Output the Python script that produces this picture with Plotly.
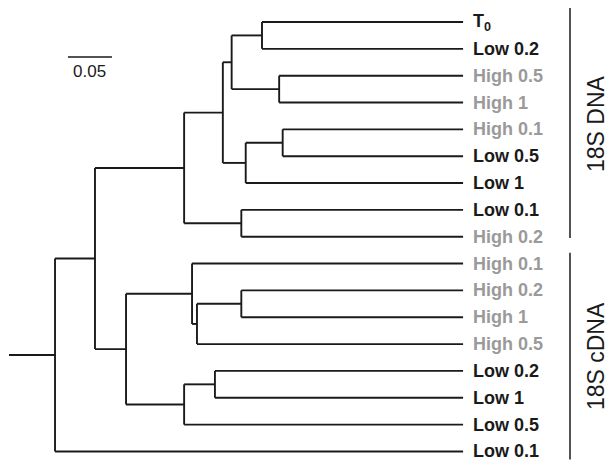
import plotly.graph_objects as go

# ---- data ----
leaf_labels = ["T<sub>0</sub>", "Low 0.2", "High 0.5", "High 1", "High 0.1", "Low 0.5",
               "Low 1", "Low 0.1", "High 0.2", "High 0.1", "High 0.2", "High 1",
               "High 0.5", "Low 0.2", "Low 1", "Low 0.5", "Low 0.1"]
leaf_treatment = ["T0", "Low", "High", "High", "High", "Low", "Low", "Low", "High",
                  "High", "High", "High", "High", "Low", "Low", "Low", "Low"]
leaf_depth = 0.516

# internal nodes: name, children, distance from origin of the root stem
node_names = ["n1", "n2", "A", "n3", "B", "C", "n4", "D", "n5", "F", "G", "n6", "H", "I", "E", "root"]
node_children = [["L0", "L1"], ["L2", "L3"], ["n1", "n2"], ["L4", "L5"], ["n3", "L6"],
                 ["A", "B"], ["L7", "L8"], ["C", "n4"], ["L10", "L11"], ["n5", "L12"],
                 ["L9", "F"], ["L13", "L14"], ["n6", "L15"], ["G", "H"], ["D", "I"],
                 ["E", "L16"]]
node_depths = [0.2875, 0.307, 0.253, 0.311, 0.269, 0.243, 0.264, 0.199, 0.264, 0.2136,
               0.208, 0.234, 0.199, 0.133, 0.0977, 0.0523]

groups = ["18S DNA", "18S cDNA"]
group_ranges = [(-0.52, 8.05), (8.6, 16.3)]
scale_length = 0.05

colors = {"T0": "#1a1a1a", "Low": "#1a1a1a", "High": "#9a9a9a"}

# ---- layout of the tree ----
pos = {}
for i in range(len(leaf_labels)):
    pos["L%d" % i] = (leaf_depth, float(i))
for name, ch, d in zip(node_names, node_children, node_depths):
    ys = [pos[c][1] for c in ch]
    pos[name] = (d, sum(ys) / len(ys))

xs, ys = [], []
for name, ch in zip(node_names, node_children):
    d, y = pos[name]
    cy = [pos[c][1] for c in ch]
    xs += [d, d, None]
    ys += [min(cy), max(cy), None]
    for c in ch:
        cd, cyy = pos[c]
        xs += [d, cd, None]
        ys += [cyy, cyy, None]
# root stem
rd, ry = pos["root"]
xs += [0, rd, None]
ys += [ry, ry, None]

fig = go.Figure()
fig.add_trace(go.Scatter(x=xs, y=ys, mode="lines",
                         line=dict(color="#1a1a1a", width=1.9),
                         hoverinfo="skip", showlegend=False))

FONT = "Liberation Sans, Arial, sans-serif"
for i, (lab, t) in enumerate(zip(leaf_labels, leaf_treatment)):
    fig.add_annotation(x=leaf_depth + 0.0095, y=i, text="<b>%s</b>" % lab,
                       showarrow=False, xanchor="left", yanchor="middle",
                       font=dict(family=FONT, size=18, color=colors[t]))

# group brackets
bx = 0.6375
for g, (y0, y1) in zip(groups, group_ranges):
    fig.add_shape(type="line", x0=bx, x1=bx, y0=y0, y1=y1,
                  line=dict(color="#1a1a1a", width=1.5))
    fig.add_annotation(x=0.667, y=(y0 + y1) / 2, text=g, textangle=-90,
                       showarrow=False, xanchor="center", yanchor="middle",
                       font=dict(family=FONT, size=23, color="#1a1a1a"))

# scale bar
sx0 = 0.067
fig.add_shape(type="line", x0=sx0, x1=sx0 + scale_length, y0=1.30, y1=1.30,
              line=dict(color="#1a1a1a", width=1.5))
fig.add_annotation(x=sx0 + scale_length / 2, y=1.85, text=str(scale_length),
                   showarrow=False, xanchor="center", yanchor="middle",
                   font=dict(family=FONT, size=17, color="#1a1a1a"))

fig.update_layout(width=608, height=463, margin=dict(l=0, r=0, t=0, b=0),
                  plot_bgcolor="white", paper_bgcolor="white",
                  xaxis=dict(range=[-9 / 880, 599 / 880], visible=False, fixedrange=True),
                  yaxis=dict(range=[(463 - 22) / 26.84, -22 / 26.84], visible=False,
                             fixedrange=True))
fig.write_html("out.html")
